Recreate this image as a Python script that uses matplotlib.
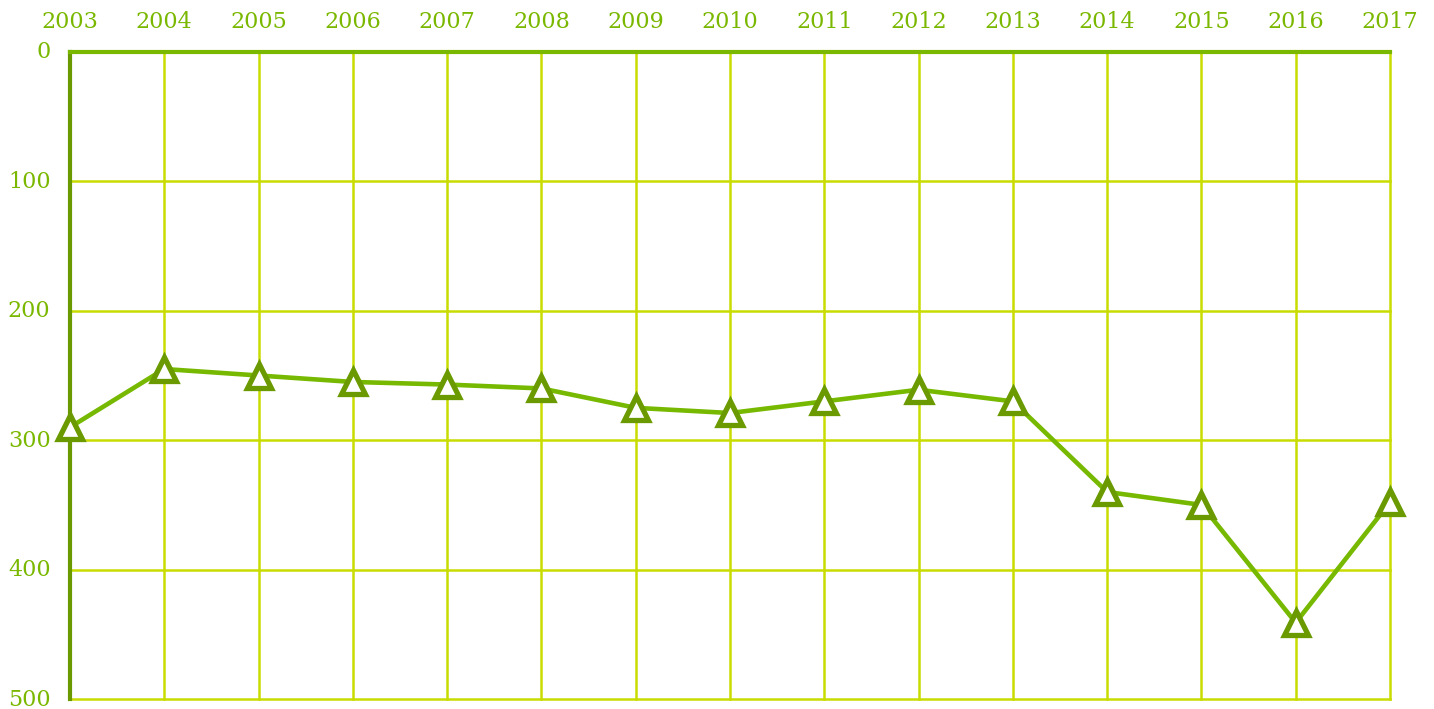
import matplotlib
matplotlib.use("Agg")
import matplotlib.pyplot as plt
import matplotlib.transforms as mtransforms

years = [2003, 2004, 2005, 2006, 2007, 2008, 2009, 2010, 2011, 2012, 2013, 2014, 2015, 2016, 2017]
values = [290, 245, 250, 255, 257, 260, 275, 279, 270, 261, 270, 340, 350, 441, 348]
y_ticks = [0, 100, 200, 300, 400, 500]

text_color = "#7ab800"
grid_color = "#c8dc00"
line_color = "#76b900"
marker_edge = "#6a9a00"

fig = plt.figure(figsize=(14.34, 7.09), dpi=100)
ax = fig.add_axes([70/1434, (709-699)/709, (1390-70)/1434, (699-52)/709])

ax.plot(years, values, color=line_color, lw=3.3, marker="^", markersize=17,
        markerfacecolor="white", markeredgecolor=marker_edge, markeredgewidth=3.8,
        zorder=5, clip_on=False)

ax.set_xlim(years[0], years[-1])
ax.set_ylim(500, 0)
ax.set_xticks(years)
ax.set_yticks(y_ticks)
ax.xaxis.tick_top()
ax.grid(True, color=grid_color, lw=1.8)
ax.set_axisbelow(True)
for gl in ax.get_xgridlines() + ax.get_ygridlines():
    gl.set_clip_on(False)
ax.tick_params(length=0, labelsize=16, labelcolor=text_color)
ax.tick_params(axis="x", pad=14)
ax.tick_params(axis="y", pad=14)
for lab in ax.get_xticklabels() + ax.get_yticklabels():
    lab.set_fontfamily("DejaVu Serif")
# nudge the y labels up slightly so the bottom one stays inside the canvas
offset = mtransforms.ScaledTranslation(0, 2/100, fig.dpi_scale_trans)
for lab in ax.get_yticklabels():
    lab.set_transform(lab.get_transform() + offset)

ax.spines["right"].set_visible(False)
ax.spines["bottom"].set_visible(False)
ax.spines["top"].set_color(text_color)
ax.spines["top"].set_linewidth(3)
ax.spines["top"].set_zorder(3)
ax.spines["left"].set_color(marker_edge)
ax.spines["left"].set_linewidth(3)
ax.spines["left"].set_zorder(3)

fig.savefig("out.png", dpi=100)
